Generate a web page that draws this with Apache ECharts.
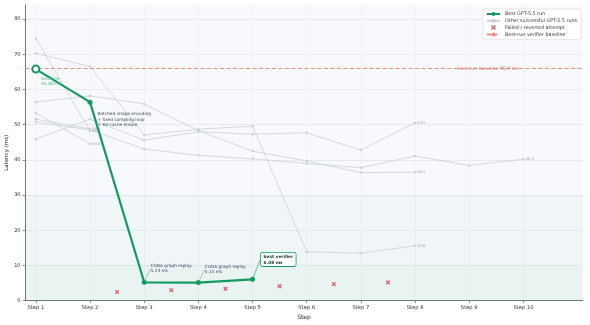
<!DOCTYPE html>
<html>
<head>
<meta charset="utf-8">
<script src="https://cdn.jsdelivr.net/npm/echarts@6/dist/echarts.min.js"></script>
<style>
  html, body { margin: 0; padding: 0; background: #fff; }
  #chart { width: 590px; height: 325px; }
</style>
</head>
<body>
<div id="chart"></div>
<script>
// step axis
const stepValues = [1, 2, 3, 4, 5, 6, 7, 8, 9, 10];
const stepLabels = ['Step 1', 'Step 2', 'Step 3', 'Step 4', 'Step 5', 'Step 6', 'Step 7', 'Step 8', 'Step 9', 'Step 10'];
const latencyTicks = [0, 10, 20, 30, 40, 50, 60, 70, 80];

// best run (ms per step) + its notes
const bestRun = [65.8, 56.4, 5.23, 5.15, 6.08];
const bestNotes = [
  'baseline\n65.80 ms',
  'Batched image encoding\n+ fixed sampling loop\n+ KV-cache elision',
  'CUDA graph replay\n5.23 ms',
  'CUDA graph replay\n5.15 ms',
  'best verifier\n6.08 ms',
];

// other successful runs, one array per run, starting at step 1
const runA = [74.5, 48.2];
const runB = [70.3, 66.5, 47.1, 48.7, 49.6, 13.9, 13.5, 15.6];
const runC = [56.4, 58.2, 55.9, 48.3, 42.5, 39.7, 36.4, 36.5];
const runD = [53.3, 44.6];
const runE = [51.6, 48.8];
const runF = [50.8, 48.5, 43.1, 41.3, 40.3, 39.0, 37.8, 41.1, 38.4, 40.2];
const runG = [45.9, 51.6, 45.6, 48.0, 47.3, 47.7, 42.8, 50.5];
const otherRuns = [runA, runB, runC, runD, runE, runF, runG];

// failed / reverted attempts
const failedSteps = [2.5, 3.5, 4.5, 5.5, 6.5, 7.5];
const failedLatency = [2.5, 3.0, 3.4, 4.1, 4.7, 5.2];

const baselineMs = 65.9;
const baselineLabelStep = 9.35;

const GREEN = '#139a5e';
const GRAY = '#c9cfdb';
const RED = '#d63a40';
const DASH_RED = '#ee8a80';
const FONT = 'DejaVu Sans';
const X_PATH = 'path://M2,0 L5,3 L8,0 L10,2 L7,5 L10,8 L8,10 L5,7 L2,10 L0,8 L3,5 L0,2 Z';

const chart = echarts.init(document.getElementById('chart'), null, { renderer: 'canvas' });

// label placement for each best-run point (style only, texts come from bestNotes)
const noteStyle = [
  { position: [10, 12], color: '#52b985' },
  { position: [10, 12], color: '#3e4a5c' },
  { position: [9, -16.5], color: '#3e4a5c', line: '#8e99aa' },
  { position: [9, -16], color: '#3e4a5c', line: '#8e99aa' },
  { position: [11, -24], color: '#173d2d', line: GREEN, boxed: true },
];

const bestData = bestRun.map((v, i) => {
  const s = noteStyle[i];
  const item = {
    value: [stepValues[i], v],
    label: {
      show: true,
      formatter: bestNotes[i],
      position: s.position,
      align: 'left',
      verticalAlign: 'top',
      fontSize: 4.3,
      lineHeight: 5.2,
      color: s.color,
      fontFamily: FONT,
    },
  };
  if (s.boxed) {
    Object.assign(item.label, {
      fontWeight: 'bold',
      backgroundColor: '#fff',
      borderColor: GREEN,
      borderWidth: 0.8,
      borderRadius: 1.5,
      padding: [1.5, 2.5, 1, 2.5],
      lineHeight: 5.4,
    });
  }
  if (s.line) {
    item.labelLine = { show: true, lineStyle: { color: s.line, width: 0.6 } };
  }
  if (i === 0) {
    item.symbol = 'emptyCircle';
    item.symbolSize = 7;
    item.itemStyle = { color: GREEN, borderWidth: 1.5 };
  }
  return item;
});

const otherSeries = otherRuns.map(run => ({
  type: 'line',
  name: 'Other successful GPT-5.5 runs',
  data: run.map((v, i) => [stepValues[i], v]),
  symbol: 'circle',
  symbolSize: 2.5,
  showAllSymbol: true,
  lineStyle: { color: GRAY, width: 0.8 },
  itemStyle: { color: GRAY },
  endLabel: {
    show: true,
    formatter: p => p.value[1].toFixed(1),
    fontSize: 3.8,
    color: '#9ca5b5',
    distance: 2,
    fontFamily: FONT,
  },
  emphasis: { disabled: true },
  z: 2,
}));

chart.setOption({
  animation: false,
  textStyle: { fontFamily: FONT },
  grid: {
    left: 25, right: 7, top: 5, bottom: 24.3,
    outerBoundsMode: 'none',
    containLabel: false,
    show: true, backgroundColor: '#f8f9fc', borderWidth: 0,
  },
  legend: {
    data: ['Best GPT-5.5 run', 'Other successful GPT-5.5 runs', 'Failed / reverted attempt', 'Best-run verifier baseline'],
    orient: 'vertical',
    right: 9,
    top: 9,
    backgroundColor: 'rgba(255,255,255,0.92)',
    borderColor: '#d6d6d6',
    borderWidth: 0.6,
    borderRadius: 1.5,
    padding: [2.5, 4, 2.5, 3],
    itemGap: 1.8,
    itemWidth: 13,
    itemHeight: 5,
    textStyle: { fontSize: 4.8, color: '#333', fontFamily: FONT },
  },
  xAxis: {
    type: 'value',
    min: 0.8,
    max: 11.1,
    name: 'Step',
    nameLocation: 'middle',
    nameGap: 14,
    nameMoveOverlap: false,
    nameTextStyle: { fontSize: 6, color: '#222', fontFamily: FONT },
    axisLine: { show: true, lineStyle: { color: '#666', width: 0.9 } },
    axisTick: { show: true, customValues: stepValues, length: 2.5, lineStyle: { color: '#666', width: 0.7 } },
    axisLabel: {
      customValues: stepValues,
      formatter: v => stepLabels[v - 1],
      fontSize: 5.2,
      color: '#333',
      margin: 4,
      fontFamily: FONT,
    },
    splitLine: { show: true, lineStyle: { color: '#eceef3', width: 0.6 } },
  },
  yAxis: {
    type: 'value',
    min: 0,
    max: 84,
    interval: 10,
    name: 'Latency (ms)',
    nameLocation: 'middle',
    nameGap: 15,
    nameMoveOverlap: false,
    nameTextStyle: { fontSize: 5.5, color: '#222', fontFamily: FONT },
    axisLine: { show: true, lineStyle: { color: '#666', width: 0.9 } },
    axisTick: { show: true, customValues: latencyTicks, length: 2.5, lineStyle: { color: '#666', width: 0.7 } },
    axisLabel: {
      customValues: latencyTicks,
      fontSize: 5,
      color: '#333',
      margin: 4.5,
      fontFamily: FONT,
    },
    splitLine: { show: true, lineStyle: { color: '#e3e6ed', width: 0.8 } },
  },
  series: [
    {
      type: 'line',
      name: 'Best-run verifier baseline',
      data: [],
      symbol: 'none',
      lineStyle: { color: DASH_RED, type: [4, 2.5], width: 1 },
      itemStyle: { color: DASH_RED },
      z: 1,
      markArea: {
        silent: true,
        data: [
          [{ yAxis: 0, itemStyle: { color: 'rgba(40,170,100,0.07)' } }, { yAxis: 10 }],
          [{ yAxis: 10, itemStyle: { color: 'rgba(40,170,100,0.035)' } }, { yAxis: 30 }],
        ],
      },
      markLine: {
        silent: true,
        symbol: 'none',
        data: [{ yAxis: baselineMs }],
        lineStyle: { color: DASH_RED, type: [4, 2.5], width: 1 },
        label: { show: false },
      },
      markPoint: {
        silent: true,
        symbol: 'rect',
        symbolSize: 0,
        data: [{ coord: [baselineLabelStep, baselineMs] }],
        label: {
          show: true,
          position: 'inside',
          formatter: 'best-run baseline ' + baselineMs.toFixed(1) + ' ms',
          fontSize: 4.7,
          color: '#d9756c',
          fontFamily: FONT,
        },
      },
    },
    ...otherSeries,
    {
      type: 'scatter',
      name: 'Failed / reverted attempt',
      data: failedSteps.map((s, i) => [s, failedLatency[i]]),
      symbol: X_PATH,
      symbolSize: 4.5,
      itemStyle: { color: RED },
      z: 4,
    },
    {
      type: 'line',
      name: 'Best GPT-5.5 run',
      data: bestData,
      symbol: 'circle',
      symbolSize: 5,
      showAllSymbol: true,
      lineStyle: { color: GREEN, width: 2.2 },
      itemStyle: { color: GREEN },
      emphasis: { disabled: true },
      z: 5,
    },
  ],
});
</script>
</body>
</html>
